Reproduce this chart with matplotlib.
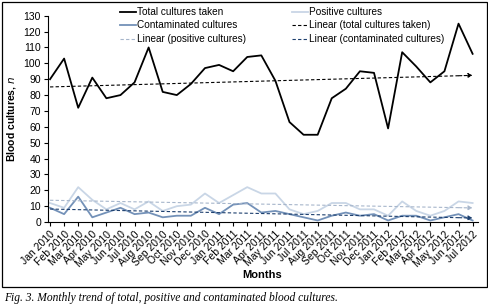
import numpy as np
import matplotlib
matplotlib.use("Agg")
import matplotlib.pyplot as plt
from matplotlib.patches import Rectangle

# monthly blood cultures, Jan 2010 - Jul 2012
months = ["Jan 2010", "Feb 2010", "Mar 2010", "Apr 2010", "May 2010", "Jun 2010",
          "Jul 2010", "Aug 2010", "Sep 2010", "Oct 2010", "Nov 2010", "Dec 2010",
          "Jan 2011", "Feb 2011", "Mar 2011", "Apr 2011", "May 2011", "Jun 2011",
          "Jul 2011", "Aug 2011", "Sep 2011", "Oct 2011", "Nov 2011", "Dec 2011",
          "Jan 2012", "Feb 2012", "Mar 2012", "Apr 2012", "May 2012", "Jun 2012",
          "Jul 2012"]
total = [90, 103, 72, 91, 78, 80, 88, 110, 82, 80, 87, 97, 99, 95, 104, 105,
         89, 63, 55, 55, 78, 84, 95, 94, 59, 107, 98, 88, 95, 125, 106]
positive = [12, 9, 22, 14, 8, 12, 8, 13, 7, 10, 11, 18, 12, 17, 22, 18,
            18, 8, 5, 7, 12, 12, 8, 8, 4, 13, 7, 4, 7, 13, 12]
contaminated = [9, 5, 16, 3, 6, 9, 5, 6, 3, 4, 4, 9, 5, 11, 12, 6,
                7, 5, 3, 1, 4, 6, 4, 5, 1, 4, 4, 1, 3, 5, 1]

plt.rcParams["font.family"] = ["Liberation Sans", "DejaVu Sans"]
plt.rcParams["font.size"] = 7

fig = plt.figure(figsize=(4.89, 3.08), dpi=100)
ax = fig.add_axes([0.098, 0.279, 0.88, 0.670])

x = np.arange(len(months))


def trend(y):
    k, b = np.polyfit(x, y, 1)
    return k * x + b


series = [
    (total, "Total cultures taken", "black", "-", 1.3),
    (positive, "Positive cultures", "#c9d6e6", "-", 1.3),
    (contaminated, "Contaminated cultures", "#7391b8", "-", 1.3),
]
trends = [
    (total, "Linear (total cultures taken)", "black"),
    (positive, "Linear (positive cultures)", "#a7b6cb"),
    (contaminated, "Linear (contaminated cultures)", "#1d3f6e"),
]

lines = {}
for y, lab, col, ls, lw in series:
    lines[lab], = ax.plot(x, y, color=col, ls=ls, lw=lw, label=lab)
for y, lab, col in trends:
    t = trend(y)
    lines[lab], = ax.plot(x[:-1], t[:-1], color=col, ls=(0, (3, 2)), lw=0.8, label=lab)
    ax.annotate("", xy=(x[-1], t[-1]), xytext=(x[-2], t[-2]),
                arrowprops=dict(arrowstyle="-|>,head_length=0.35,head_width=0.18",
                                color=col, lw=0.8, ls=(0, (3, 2)),
                                shrinkA=0, shrinkB=0))

ax.set_ylim(0, 130)
ax.set_yticks(range(0, 131, 10))
ax.set_xlim(-0.15, 30.4)
ax.set_xticks(x)
ax.set_xticklabels(months, rotation=45, ha="right", rotation_mode="anchor")
ax.tick_params(direction="out", length=3, width=0.8, pad=2, labelsize=7.5)
ax.spines["top"].set_visible(False)
ax.spines["right"].set_visible(False)

ax.set_ylabel("Blood cultures, $\\mathit{n}$", fontweight="bold", fontsize=7.5, labelpad=4)
fig.text(0.536, 0.107, "Months", ha="center", va="center", fontweight="bold", fontsize=8)

order = ["Total cultures taken", "Contaminated cultures", "Linear (positive cultures)",
         "Positive cultures", "Linear (total cultures taken)", "Linear (contaminated cultures)"]
fig.legend([lines[k] for k in order], order, ncol=2, loc="upper left",
           bbox_to_anchor=(0.232, 1.0), frameon=False, fontsize=7.2,
           handlelength=1.55, handletextpad=0.15, columnspacing=4.6,
           labelspacing=0.35, borderaxespad=0.3)

fig.patches.append(Rectangle((0.004, 0.068), 0.992, 0.926, transform=fig.transFigure,
                             fill=False, edgecolor="black", lw=0.9))
fig.text(0.008, 0.032, "Fig. 3. Monthly trend of total, positive and contaminated blood cultures.",
         family="Liberation Serif", style="italic", fontsize=8.3, va="center")

fig.savefig("out.png", dpi=100)
